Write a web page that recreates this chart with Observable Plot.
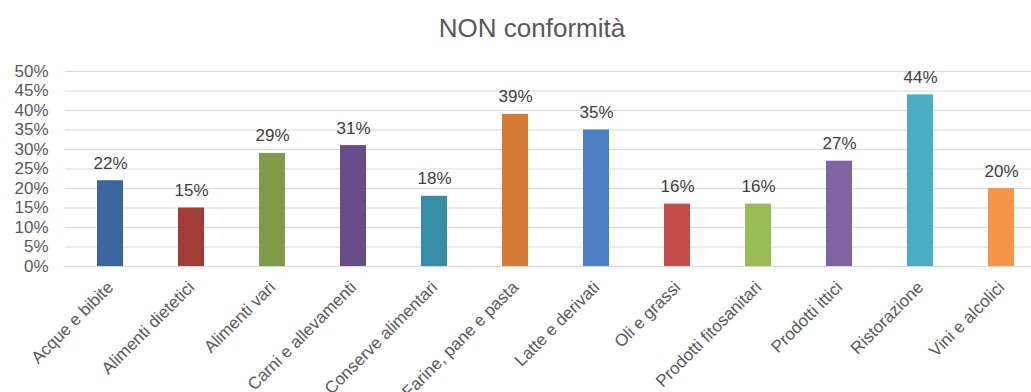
<!DOCTYPE html>
<html>
<head>
<meta charset="utf-8">
<script src="https://cdn.jsdelivr.net/npm/d3@7"></script>
<script src="https://cdn.jsdelivr.net/npm/@observablehq/plot@0.6"></script>
<style>
  html, body { margin: 0; padding: 0; background: #fff; overflow: hidden; width: 1031px; height: 392px; }
  #wrap { position: relative; width: 1031px; height: 392px; overflow: hidden; }
  #title { position: absolute; left: 0; top: 15px; width: 1064px; text-align: center;
           font-family: "Liberation Sans", Arial, sans-serif; font-size: 26px; line-height: 26px; color: #595959; }
  #chart { position: absolute; left: 0; top: 0; width: 1045px; }
  #chart svg { max-width: none !important; }
</style>
</head>
<body>
<div id="wrap">
  <div id="chart"></div>
  <div id="title">NON conformità</div>
</div>
<script>
const categories = ["Acque e bibite", "Alimenti dietetici", "Alimenti vari", "Carni e allevamenti",
  "Conserve alimentari", "Farine, pane e pasta", "Latte e derivati", "Oli e grassi",
  "Prodotti fitosanitari", "Prodotti ittici", "Ristorazione", "Vini e alcolici"];
const values = [22, 15, 29, 31, 18, 39, 35, 16, 16, 27, 44, 20];
const yTicks = [0, 5, 10, 15, 20, 25, 30, 35, 40, 45, 50];
const palette = ["#3b66a0", "#a33c39", "#7f9b47", "#674d88", "#368ea6", "#d67b35",
  "#4a7fc1", "#c44d4b", "#9bbb59", "#8064a2", "#4bacc6", "#f79646"];

const data = categories.map((c, i) => ({cat: c, v: values[i]}));
const font = "'Liberation Sans', Arial, sans-serif";

const chart = Plot.plot({
  width: 1045,
  height: 392,
  marginLeft: 65,
  marginRight: 0,
  marginTop: 71,
  marginBottom: 126,
  style: {fontFamily: font, background: "transparent", color: "#595959", overflow: "visible", maxWidth: "none"},
  x: {domain: categories, paddingInner: 0.68, paddingOuter: 0.34},
  y: {domain: [0, 50]},
  color: {domain: categories, range: palette},
  marks: [
    Plot.ruleY(yTicks, {stroke: "#d9d9d9", strokeWidth: 1}),
    Plot.barY(data, {x: "cat", y: "v", fill: "cat"}),
    Plot.text(data, {x: "cat", y: "v", text: d => d.v + "%", dy: -12, lineAnchor: "bottom",
      fill: "#404040", fontSize: 17}),
    Plot.axisY({ticks: yTicks, tickFormat: d => d + "%", tickSize: 0, tickPadding: 17,
      fontSize: 17, label: null, fill: "#595959"}),
    Plot.axisX({tickRotate: -45, tickSize: 0, tickPadding: 18, fontSize: 17, label: null, fill: "#595959"})
  ]
});
document.getElementById("chart").append(chart);
</script>
</body>
</html>
